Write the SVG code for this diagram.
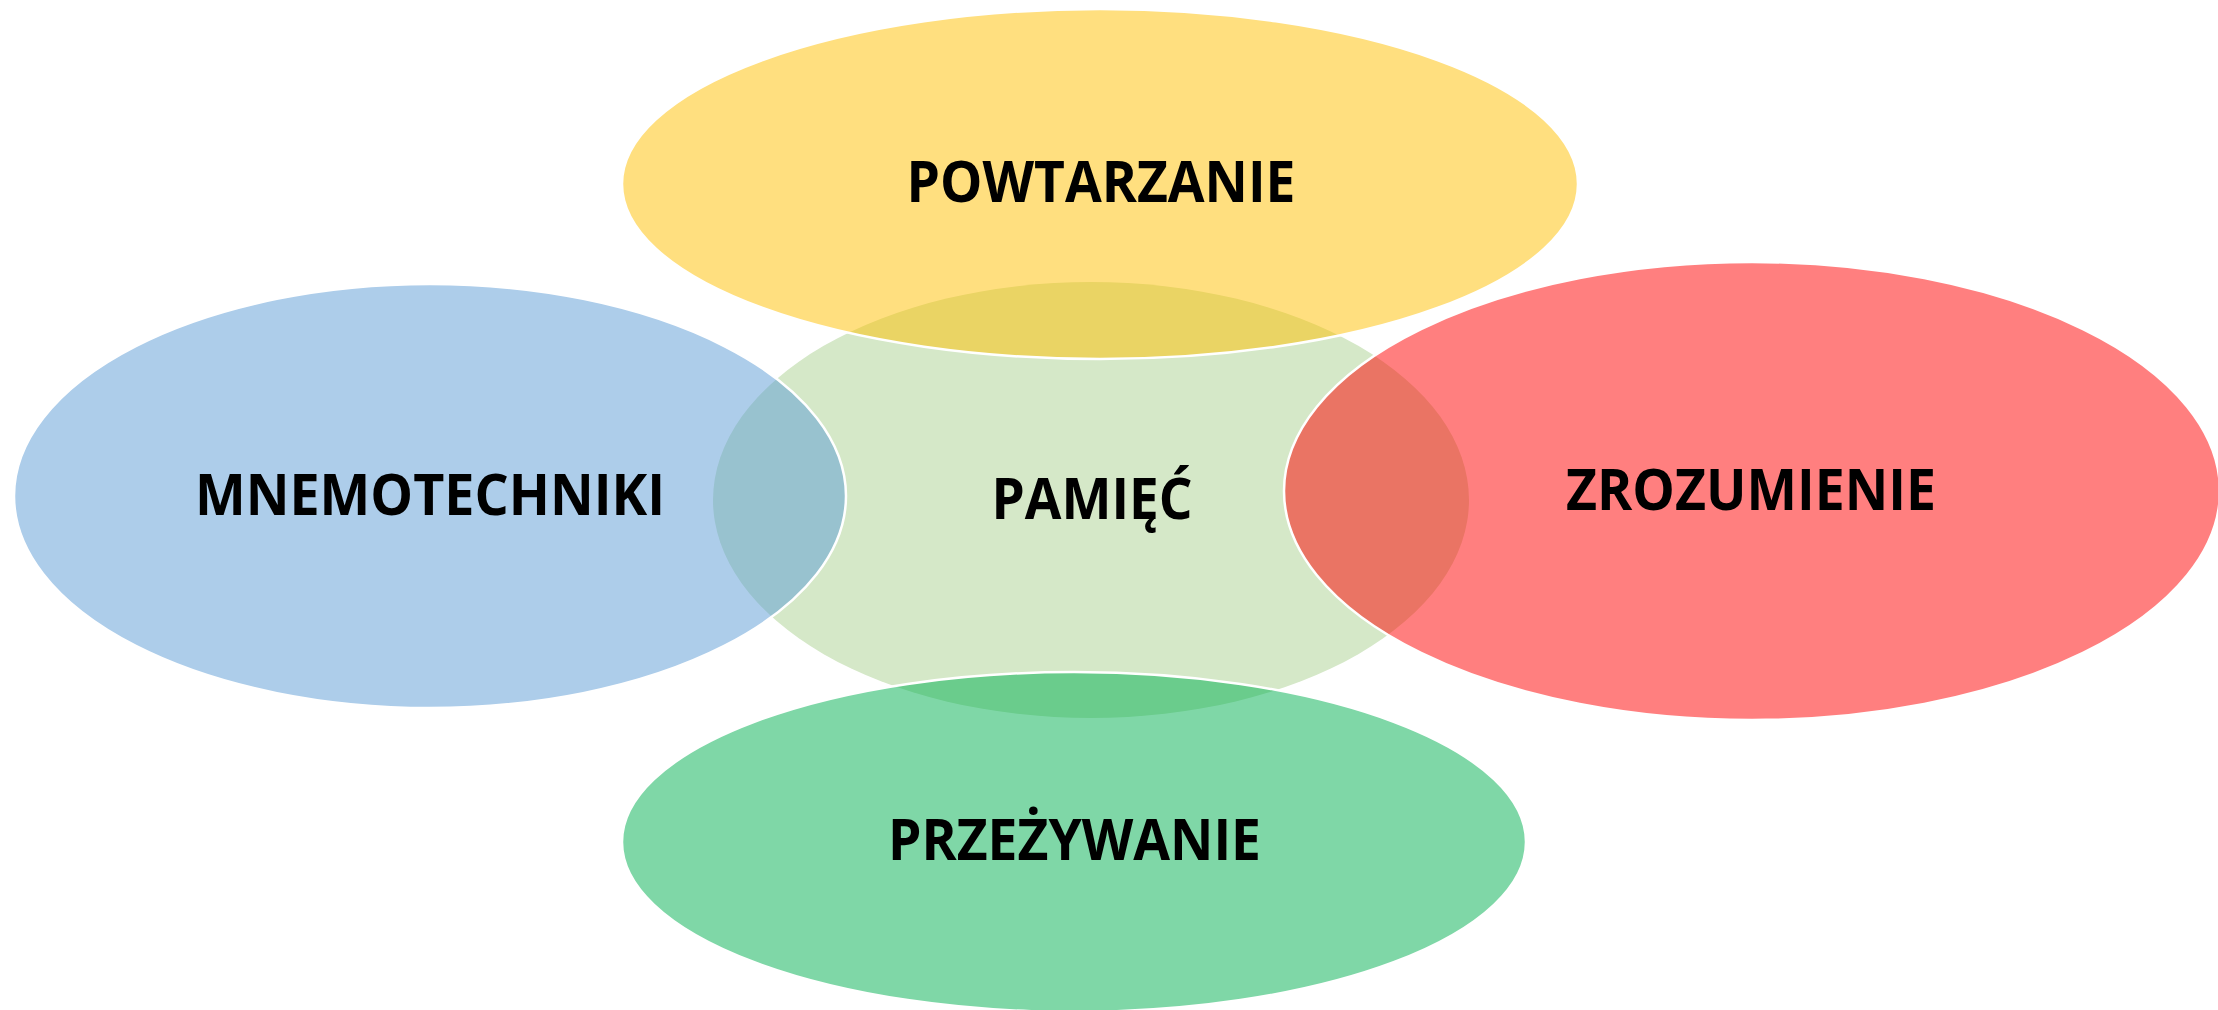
<svg xmlns="http://www.w3.org/2000/svg" width="2218" height="1010" viewBox="0 0 2218 1010">
  <style>
    .outer { fill-opacity: 0.5; stroke: #FFFFFF; stroke-width: 2.5; }
    .lbl { font-family: "Open Sans", "Liberation Sans", sans-serif; font-weight: 700; font-size: 57px; fill: #000000; text-anchor: middle; }
  </style>
  <rect width="2218" height="1010" fill="#FFFFFF"/>
  <g id="node-pamiec">
    <ellipse cx="1091" cy="500" rx="378" ry="218" fill="#D5E8C8"/>
  </g>
  <g id="node-powtarzanie">
    <ellipse class="outer" cx="1100" cy="184" rx="478" ry="175" fill="#FFBF00"/>
    <text class="lbl" x="1101" y="202" textLength="389" lengthAdjust="spacingAndGlyphs">POWTARZANIE</text>
  </g>
  <g id="node-mnemotechniki">
    <ellipse class="outer" cx="430" cy="496" rx="416" ry="212" fill="#5B9BD5"/>
    <text class="lbl" x="430" y="515" textLength="470" lengthAdjust="spacingAndGlyphs">MNEMOTECHNIKI</text>
  </g>
  <g id="node-zrozumienie">
    <ellipse class="outer" cx="1752" cy="491" rx="468" ry="229" fill="#FF0000"/>
    <text class="lbl" x="1751" y="510" textLength="370" lengthAdjust="spacingAndGlyphs">ZROZUMIENIE</text>
  </g>
  <g id="node-przezywanie">
    <ellipse class="outer" cx="1074" cy="842" rx="452" ry="170" fill="#00B050"/>
    <text class="lbl" x="1074.5" y="860" textLength="373" lengthAdjust="spacingAndGlyphs">PRZEŻYWANIE</text>
  </g>
  <g id="node-pamiec-label">
    <text class="lbl" x="1092" y="519" textLength="201" lengthAdjust="spacingAndGlyphs">PAMIĘĆ</text>
  </g>
  <g id="connectors"></g>
</svg>
